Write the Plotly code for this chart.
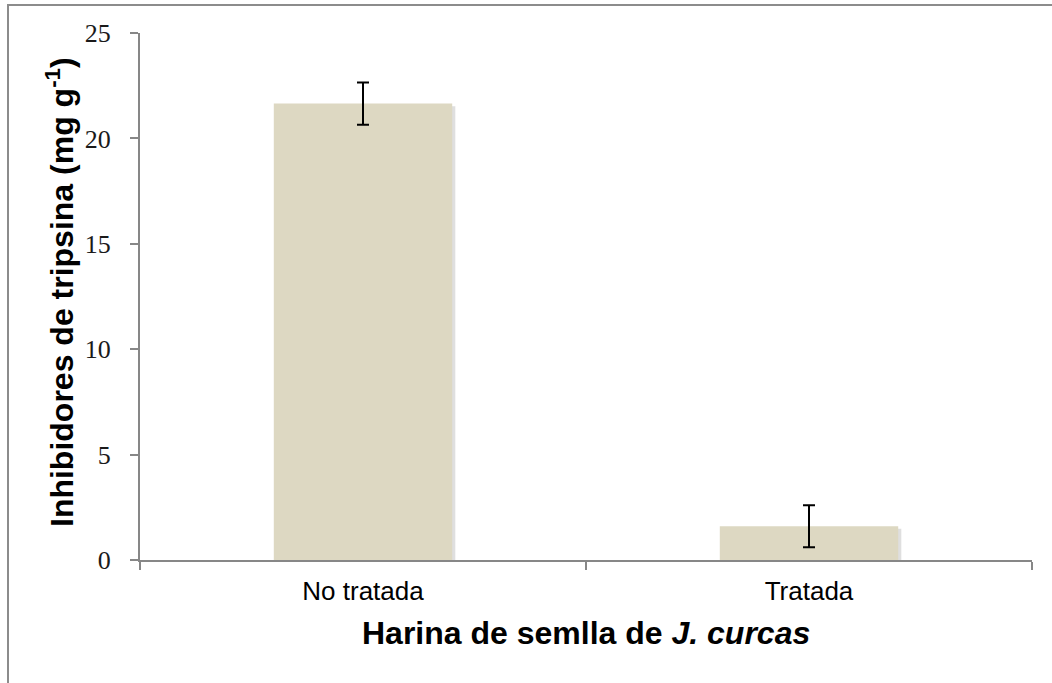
import plotly.graph_objects as go

# Trypsin inhibitor content of J. curcas seed meal
categories = ["No tratada", "Tratada"]
inhibitors = [21.65, 1.6]
errors = [1.0, 1.0]

y_ticks = [0, 5, 10, 15, 20, 25]

BAR_COLOR = "#ddd8c2"
AXIS_COLOR = "#878787"

W, H = 1052, 683
L, R, T, B = 140, 20, 33, 123
pw, ph = W - L - R, H - T - B


def px_x(px):
    return (px - L) / pw


def px_y(py):
    return (H - B - py) / ph


fig = go.Figure()

# soft drop shadow behind each bar
fig.add_trace(go.Bar(
    x=categories, y=inhibitors, base=-0.12,
    width=0.406, offset=-0.199,
    marker=dict(color="rgba(110,110,110,0.22)", line=dict(width=0)),
    hoverinfo="skip", showlegend=False,
))

fig.add_trace(go.Bar(
    x=categories, y=inhibitors,
    width=0.40, offset=-0.20,
    marker=dict(color=BAR_COLOR, line=dict(width=0)),
    error_y=dict(type="data", array=errors, visible=True,
                 color="black", thickness=2, width=6),
    showlegend=False,
))

fig.update_layout(
    width=W, height=H,
    margin=dict(l=L, r=R, t=T, b=B),
    paper_bgcolor="white", plot_bgcolor="white",
    barmode="overlay",
    showlegend=False,
    xaxis=dict(
        type="category", range=[-0.5, 1.5],
        tickson="boundaries", ticks="outside", ticklen=8, tickwidth=1.5,
        tickcolor=AXIS_COLOR,
        showline=True, linecolor=AXIS_COLOR, linewidth=2,
        showgrid=False, zeroline=False,
        tickfont=dict(family="Liberation Sans, Arial", size=26, color="black"),
        ticklabelstandoff=7,
    ),
    yaxis=dict(
        range=[0, 25], tickvals=y_ticks,
        ticks="outside", ticklen=8, tickwidth=1.5, tickcolor=AXIS_COLOR,
        showline=True, linecolor=AXIS_COLOR, linewidth=2,
        showgrid=False, zeroline=False,
        tickfont=dict(family="Liberation Serif, serif", size=26, color="#1a1a1a"),
        ticklabelstandoff=14,
    ),
    annotations=[
        dict(text="<b>Inhibidores de tripsina (mg g<sup>-1</sup>)</b>",
             xref="paper", yref="paper", x=px_x(60), y=px_y(292),
             xanchor="center", yanchor="middle", textangle=-90,
             showarrow=False,
             font=dict(family="Liberation Sans, Arial", size=32, color="black")),
        dict(text="<b>Harina de semlla de <i>J. curcas</i></b>",
             xref="paper", yref="paper", x=0.5, y=px_y(633),
             xanchor="center", yanchor="middle", showarrow=False,
             font=dict(family="Liberation Sans, Arial", size=32, color="black")),
    ],
    shapes=[
        # outer chart frame (left and top edges)
        dict(type="line", xref="paper", yref="paper",
             x0=px_x(8), x1=px_x(8), y0=px_y(4), y1=px_y(700),
             line=dict(color="#8c8c8c", width=2)),
        dict(type="line", xref="paper", yref="paper",
             x0=px_x(8), x1=px_x(1060), y0=px_y(5), y1=px_y(5),
             line=dict(color="#8c8c8c", width=2)),
    ],
)

fig.write_html("out.html")
